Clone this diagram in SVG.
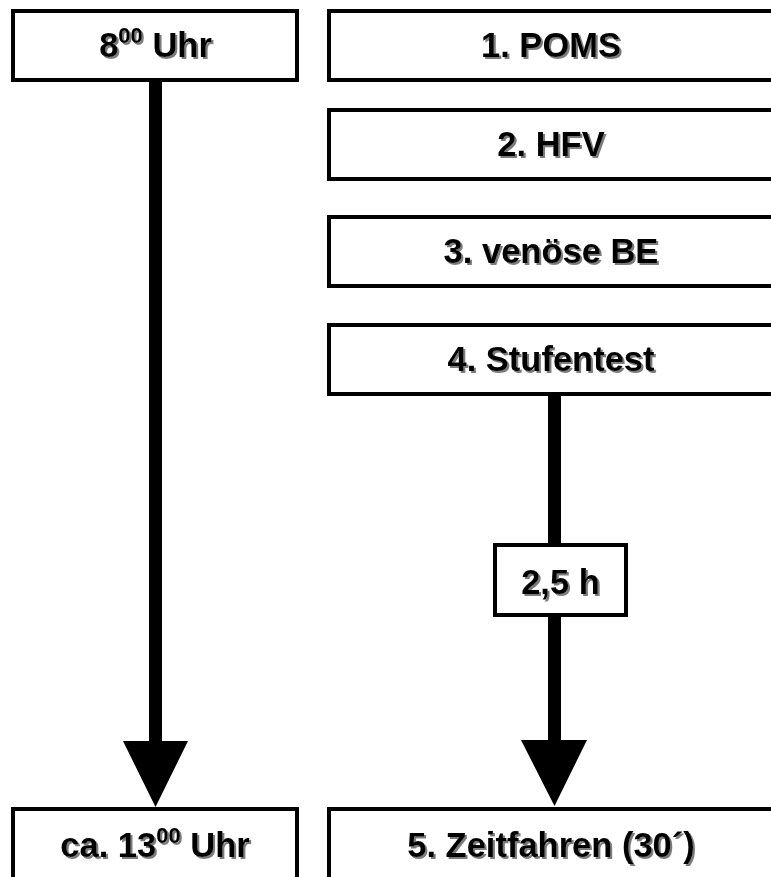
<svg xmlns="http://www.w3.org/2000/svg" width="771" height="877" viewBox="0 0 771 877">
<style>
.box{fill:#fff;stroke:#000;stroke-width:4}
.t{font-family:"Liberation Sans",Arial,sans-serif;font-weight:bold;font-size:34.5px;text-anchor:middle;fill:#000;filter:url(#shadow)}
.sup{font-size:22px}
</style>
<defs>
<filter id="shadow" x="-10%" y="-20%" width="130%" height="150%">
<feDropShadow dx="2" dy="2" stdDeviation="0.7" flood-color="#6e6e6e" flood-opacity="0.9"/>
</filter>
</defs>
<rect width="771" height="877" fill="#fff"/>
<g id="connectors" fill="#000">
<rect x="149" y="80" width="13" height="662"/>
<polygon points="123,741 188,741 155.5,807"/>
<rect x="548" y="394" width="13" height="347"/>
<polygon points="521,740 587,740 554.5,806"/>
</g>
<g id="n-start">
<rect class="box" x="13" y="11" width="284" height="69"/>
<text class="t" x="155.5" y="57">8<tspan class="sup" dy="-14">00</tspan><tspan dy="14"> Uhr</tspan></text>
</g>
<g id="n-poms">
<rect class="box" x="329" y="11" width="450" height="69"/>
<text class="t" x="551" y="57">1. POMS</text>
</g>
<g id="n-hfv">
<rect class="box" x="329" y="110" width="450" height="69"/>
<text class="t" x="551" y="156">2. HFV</text>
</g>
<g id="n-be">
<rect class="box" x="329" y="217" width="450" height="69"/>
<text class="t" x="551" y="263">3. venöse BE</text>
</g>
<g id="n-stufen">
<rect class="box" x="329" y="325" width="450" height="69"/>
<text class="t" x="551" y="371">4. Stufentest</text>
</g>
<g id="n-pause">
<rect class="box" x="495" y="545" width="131" height="70"/>
<text class="t" x="560.5" y="594">2,5 h</text>
</g>
<g id="n-end">
<rect class="box" x="13" y="809" width="284" height="72"/>
<text class="t" x="155" y="857">ca. 13<tspan class="sup" dy="-14">00</tspan><tspan dy="14"> Uhr</tspan></text>
</g>
<g id="n-zeit">
<rect class="box" x="329" y="809" width="450" height="72"/>
<text class="t" x="551" y="857">5. Zeitfahren (30´)</text>
</g>
</svg>
